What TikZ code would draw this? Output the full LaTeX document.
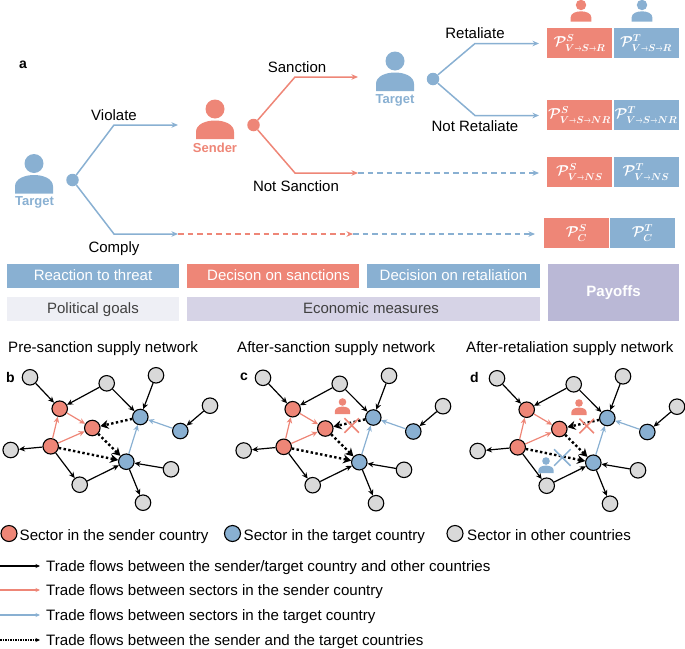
\documentclass[tikz,border=0pt]{standalone}
\usepackage{amsmath}
\usepackage{fontspec}
\setmainfont{Liberation Sans}
\usetikzlibrary{shapes.misc, arrows.meta, positioning}
\definecolor{senderred}{HTML}{EE8677}
\definecolor{targetblue}{HTML}{89B0D2}
\definecolor{othergray}{HTML}{D9D9D9}
\definecolor{politicalbar}{HTML}{EEEFF5}
\definecolor{economicbar}{HTML}{D6D3E6}
\definecolor{payoffbar}{HTML}{BAB8D6}
\newcommand{\stepto}{\scalebox{0.62}[1]{$\scriptstyle\to$}}
\tikzset{
    person/.pic={
        \fill (0,0) circle (9.5);
        \fill (-19,30) -- (-19,23) .. controls (-19,15) and (-9,11.5) .. (0,11.5)
            .. controls (9,11.5) and (19,15) .. (19,23) -- (19,30) -- cycle;
    },
    branch/.style={line width=1.5pt, -{Stealth[length=6.5pt,width=5.5pt]}},
    dashbranch/.style={branch, dash pattern=on 5.5pt off 4pt},
    choicedot/.style={circle, inner sep=0pt, minimum size=12.5pt},
    choicetxt/.style={font=\fontsize{15}{18}\selectfont, inner sep=0pt, anchor=base},
    actortxt/.style={font=\fontsize{13}{16}\selectfont\bfseries, inner sep=0pt},
    payoffbox/.style={minimum width=65pt, minimum height=30pt, inner sep=0pt, text=white, font=\boldmath\Large},
    stagebar/.style={minimum height=24pt, inner sep=0pt, text height=11pt, text depth=2pt, font=\fontsize{15}{18}\selectfont},
    paneltxt/.style={font=\fontsize{15.1}{18}\selectfont, inner sep=0pt, anchor=base west},
    panelletter/.style={font=\fontsize{14}{17}\selectfont\bfseries, inner sep=0pt},
    sector/.style={circle, draw=black, line width=1.1pt, inner sep=0pt, minimum size=15.5pt},
    flow/.style={line width=1.2pt, -{Stealth[length=6pt,width=5.5pt]}},
    tradeflow/.style={line width=2.4pt, dash pattern=on 2.4pt off 2.4pt, -{Stealth[length=8pt,width=9pt]}},
    legendflow/.style={line width=1.2pt, -{Stealth[length=4.5pt,width=4pt]}},
    crossmark/.style={cross out, line width=1.5pt, inner sep=0pt, minimum size=13pt},
}
\begin{document}
\begin{tikzpicture}[x=1pt, y=-1pt]
    \useasboundingbox (0,0) rectangle (685,648);
    % Panel a: actors
    \node[panelletter] (lettera) at (23,65) {a};
    \pic[fill=targetblue] at (34,163.5) {person};
    \pic[fill=senderred] at (215,109) {person};
    \pic[fill=targetblue] at (395,61) {person};
    \pic[fill=senderred, scale=0.55] at (581,5) {person};
    \pic[fill=targetblue, scale=0.55] at (642,5) {person};
    \node[actortxt, text=targetblue] (targetone) at (34.5,202) {Target};
    \node[actortxt, text=senderred] (sender) at (215,148) {Sender};
    \node[actortxt, text=targetblue] (targettwo) at (395,100) {Target};
    % Choice points
    \node[choicedot, fill=targetblue] (choiceT) at (72.5,180) {};
    \node[choicedot, fill=senderred] (choiceS) at (253.5,125) {};
    \node[choicedot, fill=targetblue] (choiceR) at (433,79) {};
    % Bends and free ends
    \coordinate (violate) at (114,125);
    \coordinate (violateend) at (178,125);
    \coordinate (comply) at (114,234);
    \coordinate (complyend) at (178,234);
    \coordinate (complyred) at (353,234);
    \coordinate (complyblue) at (535,234);
    \coordinate (sanction) at (295,77);
    \coordinate (sanctionend) at (358,77);
    \coordinate (notsanction) at (295,173);
    \coordinate (notsanctionend) at (358,173);
    \coordinate (notsanctionblue) at (539,173);
    \coordinate (retaliate) at (475,43.5);
    \coordinate (retaliateend) at (539,43.5);
    \coordinate (notretaliate) at (475,115.5);
    \coordinate (notretaliateend) at (539,115.5);
    % Branches
    \draw[branch, targetblue] (choiceT) -- (violate) -- (violateend);
    \draw[dashbranch, targetblue] (complyred) -- (complyblue);
    \draw[dashbranch, senderred] (complyend) -- (complyred);
    \draw[branch, targetblue] (choiceT) -- (comply) -- (complyend);
    \draw[branch, senderred] (choiceS) -- (sanction) -- (sanctionend);
    \draw[dashbranch, targetblue] (notsanctionend) -- (notsanctionblue);
    \draw[branch, senderred] (choiceS) -- (notsanction) -- (notsanctionend);
    \draw[branch, targetblue] (choiceR) -- (retaliate) -- (retaliateend);
    \draw[branch, targetblue] (choiceR) -- (notretaliate) -- (notretaliateend);
    % Branch labels
    \node[choicetxt] (violatetxt) at (114,120) {Violate};
    \node[choicetxt] (complytxt) at (114,252) {Comply};
    \node[choicetxt] (sanctiontxt) at (297,72.5) {Sanction};
    \node[choicetxt] (notsanctiontxt) at (296,191) {Not Sanction};
    \node[choicetxt] (retaliatetxt) at (475,38) {Retaliate};
    \node[choicetxt] (notretaliatetxt) at (475,131.5) {Not Retaliate};
    % Payoffs
    \node[payoffbox, fill=senderred] (payRS) at (579.5,43) {$\mathcal{P}^{S}_{V\stepto S\stepto R}$};
    \node[payoffbox, fill=targetblue] (payRT) at (646,43) {$\mathcal{P}^{T}_{V\stepto S\stepto R}$};
    \node[payoffbox, fill=senderred] (payNRS) at (579.5,115) {$\mathcal{P}^{S}_{V\stepto S\stepto NR}$};
    \node[payoffbox, fill=targetblue] (payNRT) at (646,115) {$\mathcal{P}^{T}_{V\stepto S\stepto NR}$};
    \node[payoffbox, fill=senderred] (payNSS) at (579.5,172) {$\mathcal{P}^{S}_{V\stepto NS}$};
    \node[payoffbox, fill=targetblue] (payNST) at (646,172) {$\mathcal{P}^{T}_{V\stepto NS}$};
    \node[payoffbox, fill=senderred] (payCS) at (576.5,233) {$\mathcal{P}^{S}_{C}$};
    \node[payoffbox, fill=targetblue] (payCT) at (642.5,233) {$\mathcal{P}^{T}_{C}$};
    % Stages
    \node[stagebar, fill=targetblue, text=white, minimum width=172.5pt] (reaction) at (93,276) {Reaction to threat};
    \node[stagebar, fill=senderred, text=white, minimum width=172pt] (decisionS) at (273,276) {\hspace*{11pt}Decison on sanctions};
    \node[stagebar, fill=targetblue, text=white, minimum width=173pt] (decisionR) at (453.5,276) {Decision on retaliation};
    \node[stagebar, fill=politicalbar, text=black!75, minimum width=172.5pt] (political) at (93,309) {Political goals};
    \node[stagebar, fill=economicbar, text=black!75, minimum width=353pt] (economic) at (363.5,309) {\hspace*{15pt}Economic measures};
    \node[stagebar, fill=payoffbar, text=white, minimum width=131pt, minimum height=57pt, font=\fontsize{15}{18}\selectfont\bfseries] (payoffs) at (613.5,292) {Payoffs};
    % Panel titles
    \node[paneltxt] (titleb) at (8,352.5) {Pre-sanction supply network};
    \node[paneltxt] (titlec) at (237,352.5) {After-sanction supply network};
    \node[paneltxt] (titled) at (466,352.5) {After-retaliation supply network};
    \node[panelletter] (letterb) at (10.5,377) {b};
    \node[panelletter] (letterc) at (244,377) {c};
    \node[panelletter] (letterd) at (474.5,377) {d};
    % Supply networks
    \foreach \pn/\dx/\dy in {b/0/0,c/233/0.5,d/467/1} {
        \begin{scope}[shift={(\dx,\dy)}]
            \foreach \nm/\px/\py in {g1/30/377.3,g2/106.7/383.3,g3/156/375.3,g4/210/405.7,g5/10.7/450,g6/171/469.3,g7/79.7/484.7,g8/143/502.7} {
                \node[sector, fill=othergray] (\pn\nm) at (\px,\py) {};
            }
            \foreach \nm/\px/\py in {r1/59.7/408.7,r2/92.3/428,r3/50.7/446.3} {
                \node[sector, fill=senderred] (\pn\nm) at (\px,\py) {};
            }
            \foreach \nm/\px/\py in {t1/140.3/417,t2/180.3/431,t3/126.3/461.7} {
                \node[sector, fill=targetblue] (\pn\nm) at (\px,\py) {};
            }
            \foreach \from/\to in {g1/r1,g2/r1,g2/t1,g3/t1,g4/t2,r3/g5,r3/g7,g7/t3,g6/t3,t3/g8} {
                \draw[flow] (\pn\from) -- (\pn\to);
            }
            \foreach \from/\to in {r1/r2,r3/r1,r3/r2} {
                \draw[flow, senderred] (\pn\from) -- (\pn\to);
            }
            \foreach \from/\to in {t2/t1,t3/t1} {
                \draw[flow, targetblue] (\pn\from) -- (\pn\to);
            }
            \foreach \from/\to in {t1/r2,r2/t3,r3/t3} {
                \draw[tradeflow] (\pn\from) -- (\pn\to);
            }
        \end{scope}
    }
    % Actors and cuts in c, d
    \pic[fill=senderred, scale=0.4] at (342.5,402) {person};
    \pic[fill=senderred, scale=0.4] at (579,403) {person};
    \pic[fill=targetblue, scale=0.4] at (546,461) {person};
    \node[crossmark, draw=senderred] (cutc) at (351.7,425.5) {};
    \node[crossmark, draw=senderred] (cutd) at (586.7,426) {};
    \node[crossmark, draw=targetblue, minimum size=15pt] (cutret) at (562.3,457.5) {};
    % Legend
    \node[sector, fill=senderred, minimum size=16pt] (legS) at (9,533.5) {};
    \node[sector, fill=targetblue, minimum size=16pt] (legT) at (232.5,533.5) {};
    \node[sector, fill=othergray, minimum size=16pt] (legO) at (455,533.5) {};
    \node[paneltxt] (legStxt) at (19.5,540) {Sector in the sender country};
    \node[paneltxt] (legTtxt) at (243.5,540) {Sector in the target country};
    \node[paneltxt] (legOtxt) at (467,540) {Sector in other countries};
    \foreach \nm/\ypos/\legtext in {A/566/{Trade flows between the sender/target country and other countries},B/590/{Trade flows between sectors in the sender country},C/615/{Trade flows between sectors in the target country},D/640/{Trade flows between the sender and the target countries}} {
        \coordinate (leg\nm start) at (0,\ypos);
        \coordinate (leg\nm end) at (40,\ypos);
        \node[paneltxt] (leg\nm txt) at (46,\ypos+5) {\legtext};
    }
    \draw[legendflow] (legAstart) -- (legAend);
    \draw[legendflow, senderred] (legBstart) -- (legBend);
    \draw[legendflow, targetblue] (legCstart) -- (legCend);
    \draw[legendflow, dash pattern=on 1.5pt off 1pt] (legDstart) -- (legDend);
\end{tikzpicture}
\end{document}
